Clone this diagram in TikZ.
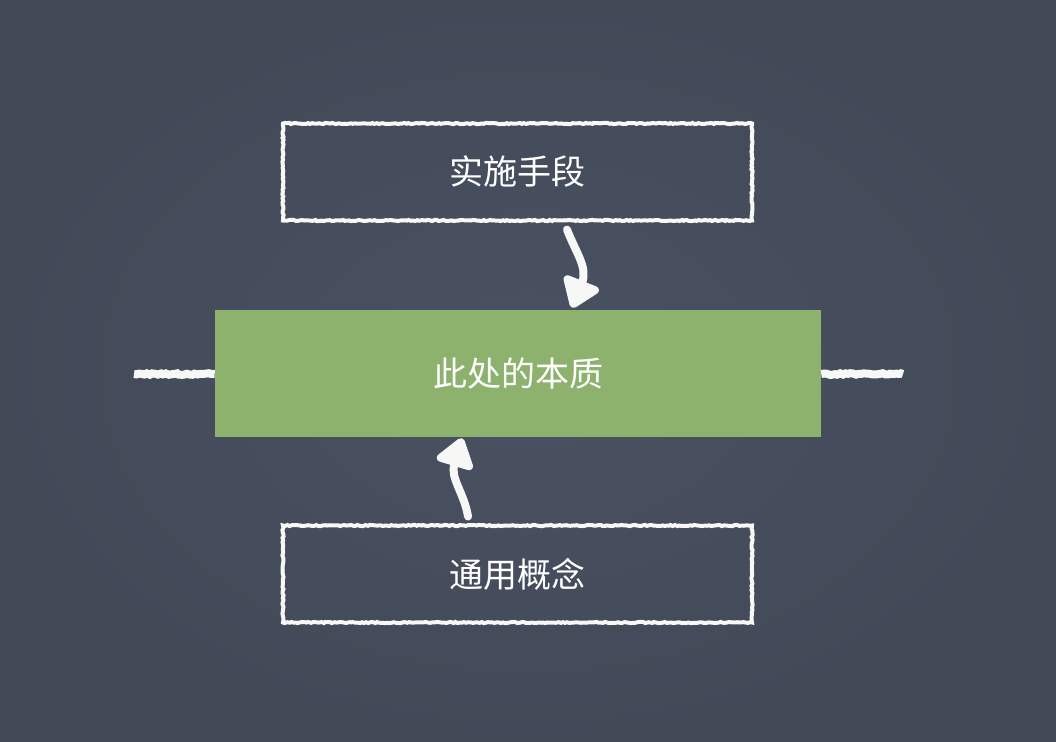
\documentclass[tikz,border=0pt]{standalone}
\usepackage{fontspec}
\newfontfamily\cjk{Noto Sans CJK SC}
\usetikzlibrary{decorations.pathmorphing,arrows.meta,calc}
\definecolor{board}{HTML}{4A5263}
\definecolor{boardedge}{HTML}{424957}
\definecolor{chalkgreen}{HTML}{8CB26D}
\definecolor{chalk}{HTML}{F7F7F5}
\tikzset{
  chalkbox/.style={draw=chalk, line width=3pt, minimum width=351.75pt, minimum height=72.75pt,
    inner sep=0pt, font=\cjk\fontsize{25.5pt}{30pt}\selectfont, text=white,
    decorate, decoration={random steps, segment length=1.6pt, amplitude=0.45pt}},
  greenbox/.style={fill=chalkgreen, minimum width=454.5pt, minimum height=95.25pt,
    inner sep=0pt, font=\cjk\fontsize{25.5pt}{30pt}\selectfont, text=white},
  chalkline/.style={draw=chalk, line width=6pt, decorate,
    decoration={random steps, segment length=2pt, amplitude=0.6pt}},
  chalkarrow/.style={draw=chalk, line width=6pt, line cap=round,
    -{Triangle[length=24pt, width=32pt, round]}},
}
\begin{document}
\begin{tikzpicture}[x=0.75pt,y=-0.75pt]
  \useasboundingbox (0,0) rectangle (1056,742);
  \shade[inner color=board, outer color=boardedge] (0,0) rectangle (1056,742);
  \coordinate (lineL) at (134,374);
  \coordinate (lineR) at (903,374);
  \node[chalkbox] (top) at (517.5,172) {实施手段};
  \node[greenbox] (mid) at (518,373.5) {此处的本质};
  \node[chalkbox] (bot) at (517.5,574) {通用概念};
  \draw[chalkline] (lineL) -- (mid.west |- lineL);
  \draw[chalkline] (mid.east |- lineR) -- (lineR);
  \draw[chalkarrow] ([xshift=37.1pt,yshift=-5.25pt]top.south)
    .. controls +(7pt,-18pt) and +(12pt,30pt) ..
    ([xshift=40.5pt,yshift=1.5pt]mid.north);
  \draw[chalkarrow] ([xshift=-37.1pt,yshift=5.25pt]bot.north)
    .. controls +(-3pt,18pt) and +(-9pt,-30pt) ..
    ([xshift=-42pt,yshift=-0.75pt]mid.south);
\end{tikzpicture}
\end{document}
